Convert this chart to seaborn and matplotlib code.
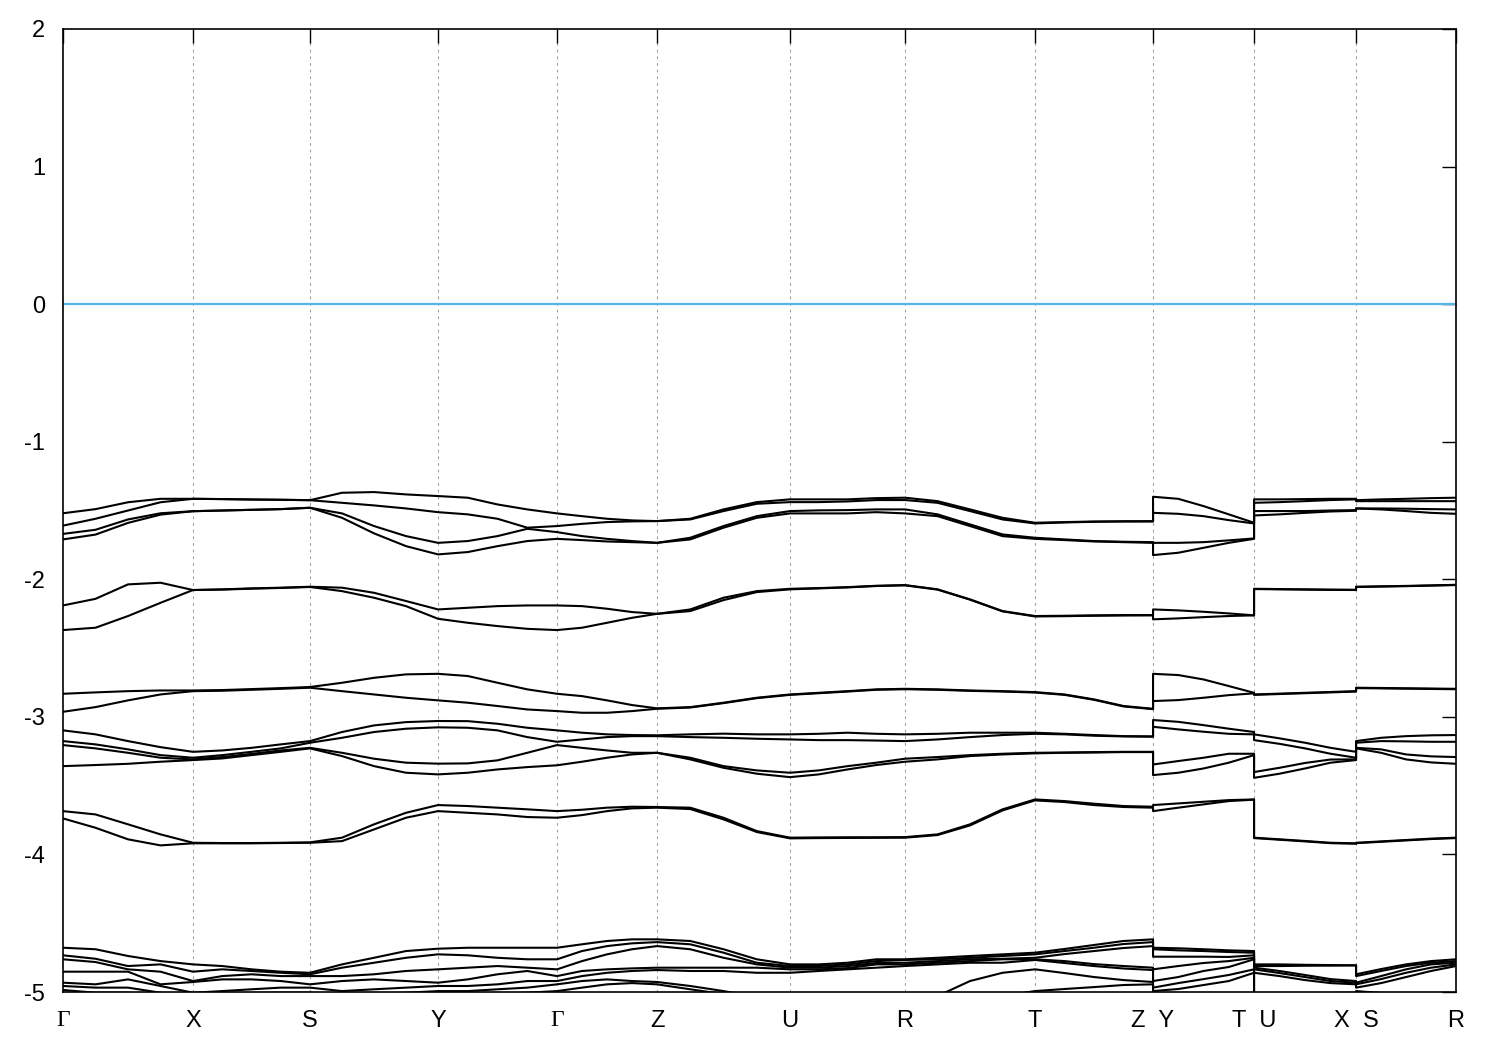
import matplotlib
matplotlib.use("Agg")
import matplotlib.pyplot as plt
import numpy as np
import pandas as pd
import seaborn as sns

# high-symmetry points along the k-path and their labels
kpath_pos = [0.0, 1.30, 2.47, 3.75, 4.94, 5.94, 7.27, 8.42, 9.72, 10.90, 11.91, 12.93, 13.93]
kpath_labels = ["Γ", "X", "S", "Y", "Γ", "Z", "U", "R", "T", "Z  Y", "T  U", "X  S", "R"]

# energies (eV) sampled at 4 sub-steps per segment:
# Γ-X-S-Y-Γ-Z-U-R-T-Z (37 values), then Y-T, U-X, S-R (5 values each)
A1 = [-1.52, -1.49, -1.44, -1.415, -1.415,
      -1.417, -1.42, -1.422, -1.425,
      -1.371, -1.366, -1.383, -1.395,
      -1.407, -1.456, -1.492, -1.521,
      -1.541, -1.560, -1.572, -1.577,
      -1.560, -1.492, -1.439, -1.419,
      -1.419, -1.419, -1.410, -1.407,
      -1.432, -1.492, -1.553, -1.589,
      -1.584, -1.580, -1.578, -1.577,
      -1.400, -1.415, -1.468, -1.528, -1.589,
      -1.419, -1.419, -1.417, -1.415, -1.415,
      -1.425, -1.419, -1.415, -1.410, -1.407]
A2 = [-1.61, -1.56, -1.50, -1.44, -1.415,
      -1.417, -1.42, -1.422, -1.425,
      -1.444, -1.463, -1.485, -1.512,
      -1.528, -1.560, -1.625, -1.613,
      -1.597, -1.584, -1.579, -1.577,
      -1.565, -1.504, -1.451, -1.439,
      -1.439, -1.434, -1.424, -1.424,
      -1.444, -1.504, -1.565, -1.594,
      -1.587, -1.582, -1.580, -1.580,
      -1.517, -1.524, -1.541, -1.570, -1.594,
      -1.444, -1.439, -1.432, -1.424, -1.419,
      -1.432, -1.432, -1.432, -1.432, -1.432]
A3 = [-1.67, -1.64, -1.565, -1.52, -1.505,
      -1.50, -1.495, -1.49, -1.48,
      -1.521, -1.613, -1.686, -1.735,
      -1.722, -1.686, -1.633, -1.657,
      -1.686, -1.706, -1.722, -1.735,
      -1.698, -1.613, -1.541, -1.504,
      -1.499, -1.497, -1.492, -1.492,
      -1.528, -1.601, -1.674, -1.698,
      -1.710, -1.722, -1.727, -1.730,
      -1.735, -1.735, -1.730, -1.717, -1.703,
      -1.504, -1.504, -1.504, -1.500, -1.497,
      -1.485, -1.485, -1.487, -1.490, -1.492]
A4 = [-1.71, -1.675, -1.59, -1.53, -1.505,
      -1.50, -1.495, -1.49, -1.48,
      -1.553, -1.666, -1.759, -1.819,
      -1.802, -1.759, -1.722, -1.706,
      -1.715, -1.725, -1.730, -1.735,
      -1.710, -1.625, -1.553, -1.521,
      -1.521, -1.521, -1.512, -1.521,
      -1.541, -1.613, -1.686, -1.706,
      -1.715, -1.725, -1.730, -1.735,
      -1.824, -1.807, -1.771, -1.735, -1.706,
      -1.536, -1.528, -1.517, -1.507, -1.502,
      -1.485, -1.492, -1.504, -1.517, -1.524]
B1 = [-2.19, -2.142, -2.037, -2.025, -2.078,
      -2.073, -2.066, -2.061, -2.054,
      -2.061, -2.098, -2.158, -2.219,
      -2.207, -2.195, -2.190, -2.190,
      -2.195, -2.214, -2.238, -2.251,
      -2.219, -2.134, -2.086, -2.069,
      -2.064, -2.057, -2.047, -2.042,
      -2.073, -2.146, -2.231, -2.267,
      -2.265, -2.262, -2.260, -2.260,
      -2.219, -2.226, -2.236, -2.248, -2.262,
      -2.069, -2.071, -2.073, -2.075, -2.076,
      -2.054, -2.051, -2.048, -2.044, -2.040]
B2 = [-2.369, -2.352, -2.267, -2.171, -2.078,
      -2.075, -2.068, -2.063, -2.056,
      -2.086, -2.134, -2.195, -2.287,
      -2.316, -2.340, -2.360, -2.369,
      -2.352, -2.316, -2.280, -2.251,
      -2.231, -2.151, -2.093, -2.073,
      -2.066, -2.059, -2.049, -2.044,
      -2.075, -2.148, -2.233, -2.270,
      -2.268, -2.265, -2.263, -2.262,
      -2.291, -2.284, -2.275, -2.267, -2.262,
      -2.071, -2.073, -2.075, -2.077, -2.078,
      -2.056, -2.053, -2.050, -2.046, -2.042]
C1 = [-2.832, -2.822, -2.813, -2.808, -2.808,
      -2.805, -2.798, -2.791, -2.783,
      -2.752, -2.716, -2.691, -2.687,
      -2.703, -2.752, -2.800, -2.832,
      -2.849, -2.880, -2.914, -2.938,
      -2.929, -2.897, -2.861, -2.837,
      -2.825, -2.813, -2.800, -2.796,
      -2.800, -2.808, -2.813, -2.820,
      -2.837, -2.873, -2.921, -2.941,
      -2.687, -2.696, -2.728, -2.776, -2.825,
      -2.837, -2.831, -2.825, -2.819, -2.813,
      -2.788, -2.790, -2.792, -2.794, -2.796]
C2 = [-2.963, -2.929, -2.880, -2.837, -2.813,
      -2.810, -2.803, -2.796, -2.788,
      -2.813, -2.837, -2.861, -2.880,
      -2.897, -2.921, -2.946, -2.958,
      -2.970, -2.970, -2.958, -2.941,
      -2.932, -2.900, -2.864, -2.840,
      -2.828, -2.816, -2.803, -2.799,
      -2.803, -2.811, -2.816, -2.823,
      -2.840, -2.876, -2.924, -2.944,
      -2.885, -2.878, -2.861, -2.842, -2.829,
      -2.840, -2.834, -2.828, -2.822, -2.816,
      -2.791, -2.793, -2.795, -2.797, -2.799]
D1 = [-3.098, -3.127, -3.176, -3.220, -3.254,
      -3.244, -3.225, -3.200, -3.176,
      -3.110, -3.062, -3.038, -3.030,
      -3.031, -3.050, -3.079, -3.098,
      -3.115, -3.127, -3.132, -3.134,
      -3.127, -3.122, -3.127, -3.127,
      -3.123, -3.115, -3.123, -3.127,
      -3.123, -3.115, -3.115, -3.115,
      -3.123, -3.132, -3.140, -3.142,
      -3.023, -3.036, -3.060, -3.086, -3.110,
      -3.127, -3.156, -3.188, -3.225, -3.254,
      -3.176, -3.152, -3.140, -3.134, -3.132]
D2 = [-3.176, -3.200, -3.236, -3.278, -3.297,
      -3.278, -3.254, -3.229, -3.188,
      -3.152, -3.110, -3.086, -3.076,
      -3.079, -3.098, -3.147, -3.181,
      -3.164, -3.147, -3.140, -3.140,
      -3.147, -3.152, -3.159, -3.164,
      -3.169, -3.169, -3.172, -3.176,
      -3.164, -3.147, -3.132, -3.123,
      -3.127, -3.137, -3.142, -3.144,
      -3.072, -3.091, -3.108, -3.123, -3.127,
      -3.169, -3.196, -3.229, -3.268, -3.297,
      -3.188, -3.176, -3.178, -3.181, -3.181]
D3 = [-3.205, -3.229, -3.261, -3.297, -3.309,
      -3.292, -3.269, -3.244, -3.225,
      -3.261, -3.304, -3.333, -3.340,
      -3.338, -3.316, -3.261, -3.205,
      -3.225, -3.244, -3.261, -3.261,
      -3.297, -3.358, -3.389, -3.406,
      -3.389, -3.358, -3.333, -3.304,
      -3.292, -3.278, -3.268, -3.261,
      -3.259, -3.256, -3.254, -3.254,
      -3.346, -3.321, -3.297, -3.268, -3.268,
      -3.401, -3.370, -3.335, -3.310, -3.309,
      -3.225, -3.236, -3.273, -3.287, -3.292]
D4 = [-3.358, -3.350, -3.341, -3.326, -3.314,
      -3.302, -3.278, -3.254, -3.229,
      -3.285, -3.358, -3.406, -3.418,
      -3.406, -3.382, -3.365, -3.352,
      -3.326, -3.297, -3.273, -3.261,
      -3.309, -3.370, -3.413, -3.438,
      -3.418, -3.382, -3.350, -3.326,
      -3.309, -3.285, -3.273, -3.265,
      -3.261, -3.259, -3.256, -3.256,
      -3.423, -3.406, -3.375, -3.333, -3.278,
      -3.443, -3.413, -3.375, -3.333, -3.314,
      -3.229, -3.261, -3.309, -3.331, -3.341]
E1 = [-3.685, -3.709, -3.781, -3.854, -3.915,
      -3.917, -3.917, -3.915, -3.912,
      -3.878, -3.781, -3.697, -3.641,
      -3.648, -3.660, -3.672, -3.685,
      -3.675, -3.660, -3.653, -3.655,
      -3.660, -3.733, -3.830, -3.878,
      -3.876, -3.875, -3.875, -3.874,
      -3.854, -3.781, -3.672, -3.600,
      -3.612, -3.631, -3.648, -3.653,
      -3.641, -3.629, -3.617, -3.605, -3.600,
      -3.878, -3.890, -3.902, -3.915, -3.919,
      -3.915, -3.905, -3.895, -3.885, -3.878]
E2 = [-3.738, -3.806, -3.890, -3.934, -3.919,
      -3.919, -3.919, -3.917, -3.915,
      -3.903, -3.818, -3.733, -3.685,
      -3.697, -3.709, -3.728, -3.733,
      -3.714, -3.685, -3.665, -3.660,
      -3.670, -3.745, -3.837, -3.883,
      -3.881, -3.880, -3.879, -3.878,
      -3.859, -3.789, -3.680, -3.607,
      -3.619, -3.641, -3.655, -3.660,
      -3.685, -3.660, -3.636, -3.612, -3.602,
      -3.881, -3.893, -3.905, -3.918, -3.922,
      -3.918, -3.908, -3.898, -3.888, -3.881]
F1 = [-4.678, -4.689, -4.738, -4.775, -4.799,
      -4.811, -4.835, -4.852, -4.860,
      -4.799, -4.751, -4.702, -4.685,
      -4.678, -4.678, -4.678, -4.678,
      -4.653, -4.629, -4.617, -4.617,
      -4.629, -4.689, -4.762, -4.799,
      -4.799, -4.787, -4.762, -4.762,
      -4.751, -4.738, -4.726, -4.714,
      -4.687, -4.658, -4.629, -4.617,
      -4.678, -4.682, -4.689, -4.697, -4.702,
      -4.799, -4.799, -4.802, -4.804, -4.806,
      -4.871, -4.833, -4.799, -4.775, -4.762]
F2 = [-4.733, -4.758, -4.811, -4.799, -4.852,
      -4.835, -4.847, -4.860, -4.871,
      -4.823, -4.787, -4.751, -4.726,
      -4.733, -4.751, -4.762, -4.762,
      -4.702, -4.666, -4.646, -4.637,
      -4.653, -4.714, -4.787, -4.811,
      -4.811, -4.799, -4.775, -4.767,
      -4.762, -4.751, -4.738, -4.726,
      -4.702, -4.678, -4.651, -4.637,
      -4.689, -4.697, -4.702, -4.709, -4.714,
      -4.811, -4.811, -4.809, -4.808, -4.806,
      -4.884, -4.847, -4.811, -4.787, -4.775]
F3 = [-4.762, -4.782, -4.835, -4.852, -4.920,
      -4.884, -4.871, -4.884, -4.884,
      -4.884, -4.871, -4.847, -4.835,
      -4.823, -4.811, -4.823, -4.835,
      -4.775, -4.726, -4.689, -4.666,
      -4.689, -4.751, -4.799, -4.823,
      -4.823, -4.811, -4.789, -4.787,
      -4.775, -4.762, -4.758, -4.751,
      -4.724, -4.702, -4.680, -4.666,
      -4.743, -4.743, -4.743, -4.745, -4.733,
      -4.823, -4.847, -4.876, -4.906, -4.920,
      -4.932, -4.884, -4.835, -4.799, -4.787]
F4 = [-4.852, -4.852, -4.852, -4.944, -4.927,
      -4.908, -4.908, -4.920, -4.944,
      -4.920, -4.908, -4.920, -4.932,
      -4.908, -4.871, -4.847, -4.884,
      -4.847, -4.835, -4.828, -4.823,
      -4.823, -4.823, -4.823, -4.835,
      -4.835, -4.826, -4.799, -4.799,
      -4.787, -4.775, -4.762, -4.762,
      -4.775, -4.797, -4.811, -4.823,
      -4.835, -4.811, -4.789, -4.775, -4.751,
      -4.835, -4.862, -4.891, -4.920, -4.932,
      -4.944, -4.906, -4.860, -4.823, -4.799]
F5 = [-4.932, -4.944, -4.908, -4.956, -5.005,
      -4.993, -4.980, -4.968, -4.968,
      -4.993, -4.980, -4.968, -4.956,
      -4.956, -4.944, -4.920, -4.920,
      -4.884, -4.860, -4.847, -4.840,
      -4.847, -4.847, -4.860, -4.860,
      -4.847, -4.835, -4.823, -4.811,
      -4.799, -4.787, -4.787, -4.767,
      -4.789, -4.811, -4.829, -4.840,
      -4.920, -4.891, -4.847, -4.818, -4.762,
      -4.860, -4.884, -4.913, -4.935, -4.944,
      -4.968, -4.935, -4.891, -4.847, -4.811]
F6 = [-4.956, -4.968, -4.968, -5.005, -5.029,
      -5.015, -5.007, -5.005, -5.005,
      -5.029, -5.015, -5.005, -4.993,
      -4.993, -4.980, -4.968, -4.944,
      -4.920, -4.908, -4.920, -4.927,
      -4.956, -4.993, -5.036, -5.051,
      -5.015, -5.029, -5.065, -5.102,
      -5.029, -4.920, -4.860, -4.835,
      -4.862, -4.891, -4.913, -4.927,
      -4.968, -4.935, -4.906, -4.876, -4.835,
      -5.051, -5.036, -5.022, -5.007, -5.005,
      -4.993, -5.007, -5.036, -5.065, -5.102]
F7 = [-4.985, -5.005, -5.005, -5.029, -5.065,
      -5.051, -5.051, -5.051, -5.051,
      -5.065, -5.065, -5.051, -5.029,
      -5.029, -5.015, -5.005, -4.993,
      -4.968, -4.944, -4.935, -4.944,
      -4.980, -5.015, -5.065, -5.087,
      -5.123, -5.138, -5.153, -5.153,
      -5.102, -5.065, -5.029, -4.993,
      -4.978, -4.964, -4.949, -4.944,
      -4.993, -4.978, -4.949, -4.920, -4.860,
      -5.087, -5.080, -5.065, -5.051, -5.029,
      -5.051, -5.065, -5.087, -5.109, -5.138]

bands = {"A1": A1, "A2": A2, "A3": A3, "A4": A4, "B1": B1, "B2": B2,
         "C1": C1, "C2": C2, "D1": D1, "D2": D2, "D3": D3, "D4": D4,
         "E1": E1, "E2": E2, "F1": F1, "F2": F2, "F3": F3, "F4": F4,
         "F5": F5, "F6": F6, "F7": F7}

N_SUB = 4


def path_x():
    xs = []
    for i in range(9):  # continuous part Γ ... Z
        seg = np.linspace(kpath_pos[i], kpath_pos[i + 1], N_SUB + 1)
        xs.extend(seg if i == 0 else seg[1:])
    for a, b in [(9, 10), (10, 11), (11, 12)]:  # Y-T, U-X, S-R
        xs.extend(np.linspace(kpath_pos[a], kpath_pos[b], N_SUB + 1))
    return np.array(xs)


kx = path_x()
frames = []
for name, vals in bands.items():
    frames.append(pd.DataFrame({"k": kx, "E": vals, "band": name}))
df = pd.concat(frames, ignore_index=True)

sns.set_style("white")
plt.rcParams["font.family"] = ["Liberation Sans", "DejaVu Sans"]
plt.rcParams["axes.unicode_minus"] = False

fig = plt.figure(figsize=(15, 10.5), dpi=100)
ax = fig.add_axes([0.042, 0.0552, 0.9287, 0.9172])

for x in kpath_pos[1:-1]:
    ax.axvline(x, color="#a0a0a0", lw=0.8, ls=(0, (2.5, 3.5)), zorder=0)
ax.axhline(0, color="#56b4e9", lw=1.6, zorder=1)

sns.lineplot(data=df, x="k", y="E", units="band", estimator=None, sort=False,
             color="black", lw=1.5, legend=False, ax=ax, zorder=2)

ax.set_xlim(kpath_pos[0], kpath_pos[-1])
ax.set_ylim(-5, 2)
ax.set_xticks(kpath_pos)
ax.set_xticklabels(kpath_labels)
ax.set_yticks(range(-5, 3))
ax.set_yticklabels([str(v) for v in range(-5, 3)])
ax.set_xlabel("")
ax.set_ylabel("")
ax.tick_params(axis="both", direction="in", top=True, right=True,
               length=10, width=1, labelsize=17, colors="black")
ax.tick_params(axis="x", pad=13)
ax.tick_params(axis="y", pad=13)
for lab in ax.get_xticklabels():
    if lab.get_text() == "Γ":
        lab.set_family(["Liberation Serif", "DejaVu Serif"])
for sp in ax.spines.values():
    sp.set_color("black")
    sp.set_linewidth(1.2)

fig.savefig("out.png", dpi=100)
